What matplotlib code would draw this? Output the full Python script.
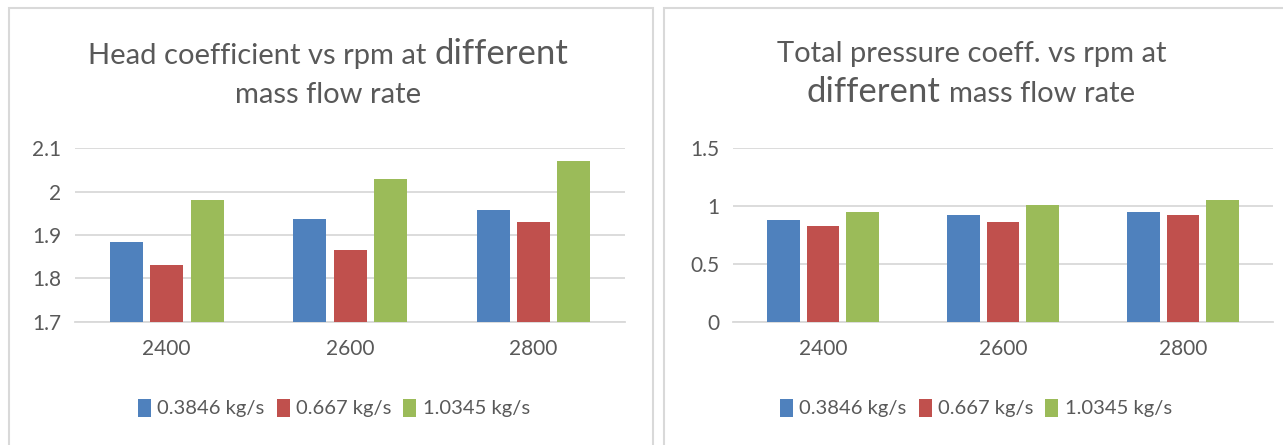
import numpy as np
import matplotlib
matplotlib.use("Agg")
import matplotlib.pyplot as plt
from matplotlib.patches import Rectangle

plt.rcParams["font.family"] = ["Lato", "DejaVu Sans"]

RPM = ["2400", "2600", "2800"]
FLOW_LABELS = ["0.3846 kg/s", "0.667 kg/s", "1.0345 kg/s"]

# head coefficient, one list per mass flow rate (values per rpm)
HEAD_0384 = [1.883, 1.936, 1.958]
HEAD_0667 = [1.832, 1.865, 1.929]
HEAD_1034 = [1.981, 2.029, 2.071]

# total pressure coefficient
PRES_0384 = [0.877, 0.920, 0.949]
PRES_0667 = [0.825, 0.860, 0.920]
PRES_1034 = [0.949, 1.007, 1.053]

COLORS = ["#4F81BD", "#C0504D", "#9BBB59"]
TEXT = "#595959"
GRID = "#D9D9D9"

W, H = 1283, 445
DPI = 100


def px(x, y):
    """pixel position (top-left origin) -> figure fraction"""
    return x / W, 1 - y / H


def title_line(fig, xc, y, parts):
    """draw one title line made of (text, size) pieces, centred on xc (px)"""
    renderer = fig.canvas.get_renderer()
    texts = []
    for s, size in parts:
        t = fig.text(0, 1 - y / H, s, fontsize=size, color=TEXT,
                     ha="left", va="baseline")
        texts.append(t)
    widths = [t.get_window_extent(renderer).width for t in texts]
    gaps = [0.26 * parts[i][1] * DPI / 72 for i in range(len(parts) - 1)]
    total = sum(widths) + sum(gaps)
    x = xc - total / 2
    for i, t in enumerate(texts):
        t.set_x(x / W)
        x += widths[i] + (gaps[i] if i < len(gaps) else 0)


def bar_panel(fig, ax, series, ylim, yticks, yticklabels, legend_xc):
    x = np.arange(len(RPM))
    width = 0.18
    step = 0.22
    for i, vals in enumerate(series):
        ax.bar(x + (i - 1) * step, vals, width, color=COLORS[i],
               label=FLOW_LABELS[i], zorder=3)
    ax.set_xlim(-0.5, len(RPM) - 0.5)
    ax.set_ylim(*ylim)
    ax.set_yticks(yticks)
    ax.set_yticklabels(yticklabels)
    ax.set_xticks(x)
    ax.set_xticklabels(RPM)
    ax.yaxis.grid(True, color=GRID, lw=1.3, zorder=0)
    for s in ["top", "right", "left"]:
        ax.spines[s].set_visible(False)
    ax.spines["bottom"].set_color(GRID)
    ax.spines["bottom"].set_linewidth(1.3)
    ax.tick_params(length=0, labelsize=15, labelcolor=TEXT)
    ax.tick_params(axis="x", pad=12)
    ax.tick_params(axis="y", pad=10)
    ax.legend(loc="center", bbox_to_anchor=px(legend_xc, 408),
              bbox_transform=fig.transFigure, ncol=3,
              frameon=False, fontsize=14.5, labelcolor=TEXT,
              handlelength=0.65, handleheight=1.0, handletextpad=0.3,
              columnspacing=0.6)


fig = plt.figure(figsize=(W / DPI, H / DPI), dpi=DPI)

# chart frames
fig.patches.append(Rectangle(px(9, 460), 644 / W, 452 / H, transform=fig.transFigure,
                             fill=False, ec=GRID, lw=1.5))
fig.patches.append(Rectangle(px(664, 460), 660 / W, 452 / H, transform=fig.transFigure,
                             fill=False, ec=GRID, lw=1.5))

ax1 = fig.add_axes([75 / W, 1 - 322 / H, 550 / W, 174 / H])
bar_panel(fig, ax1, [HEAD_0384, HEAD_0667, HEAD_1034], (1.7, 2.1),
          [1.7, 1.8, 1.9, 2.0, 2.1], ["1.7", "1.8", "1.9", "2", "2.1"], 334)

ax2 = fig.add_axes([733 / W, 1 - 322 / H, 540 / W, 174 / H])
bar_panel(fig, ax2, [PRES_0384, PRES_0667, PRES_1034], (0, 1.5),
          [0, 0.5, 1.0, 1.5], ["0", "0.5", "1", "1.5"], 976)

title_line(fig, 328, 64, [("Head coefficient vs rpm at", 21), ("different", 25)])
title_line(fig, 328, 103, [("mass flow rate", 21)])
title_line(fig, 972, 62, [("Total pressure coeff. vs rpm at", 21)])
title_line(fig, 971, 102, [("different", 25), ("mass flow rate", 21)])

fig.savefig("out.png", dpi=DPI)
